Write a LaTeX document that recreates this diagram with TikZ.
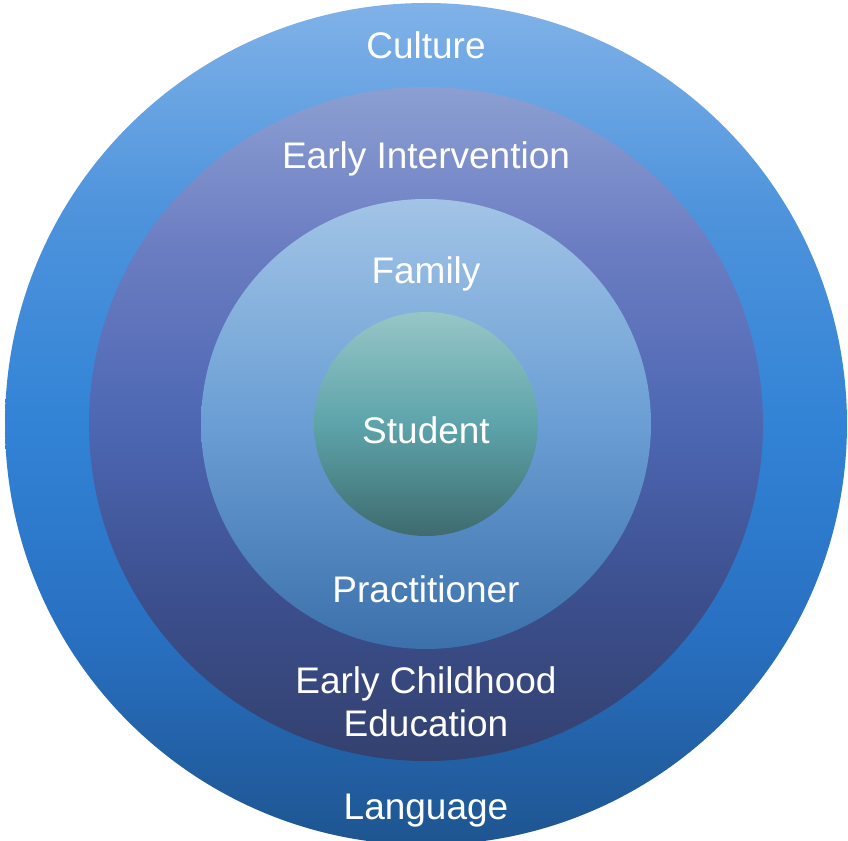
\documentclass[tikz,border=0pt]{standalone}
\usepackage{fontspec}
\setmainfont{Liberation Sans}
\usetikzlibrary{positioning}

% vertical fills, bottom (25bp) to top (75bp)
\pgfdeclareverticalshading{cultFill}{100bp}{
    rgb(0bp)=(0.118,0.333,0.565); rgb(25bp)=(0.118,0.333,0.565);
    rgb(37bp)=(0.157,0.435,0.753); rgb(50bp)=(0.196,0.514,0.839);
    rgb(63bp)=(0.310,0.580,0.863); rgb(75bp)=(0.502,0.698,0.910);
    rgb(100bp)=(0.502,0.698,0.910)}
\pgfdeclareverticalshading{eiFill}{100bp}{
    rgb(0bp)=(0.200,0.255,0.435); rgb(25bp)=(0.200,0.255,0.435);
    rgb(37bp)=(0.235,0.310,0.553); rgb(50bp)=(0.302,0.404,0.702);
    rgb(63bp)=(0.420,0.490,0.760); rgb(75bp)=(0.549,0.624,0.824);
    rgb(100bp)=(0.549,0.624,0.824)}
\pgfdeclareverticalshading{famFill}{100bp}{
    rgb(0bp)=(0.235,0.439,0.667); rgb(25bp)=(0.235,0.439,0.667);
    rgb(50bp)=(0.416,0.620,0.831); rgb(75bp)=(0.635,0.769,0.902);
    rgb(100bp)=(0.635,0.769,0.902)}
\pgfdeclareverticalshading{stuFill}{100bp}{
    rgb(0bp)=(0.243,0.420,0.431); rgb(25bp)=(0.243,0.420,0.431);
    rgb(50bp)=(0.365,0.643,0.667); rgb(75bp)=(0.592,0.776,0.780);
    rgb(100bp)=(0.592,0.776,0.780)}

\tikzset{
    ring/.style={circle,draw=none,inner sep=0pt,minimum size=#1},
    lbl/.style={text=white,font=\fontsize{18.5}{21.5}\selectfont,align=center,inner sep=0pt}
}

\begin{document}
\begin{tikzpicture}[x=0.5pt,y=0.5pt]
    \useasboundingbox (0,0) rectangle (848,841);
    \coordinate (c) at (426,417);

    % the four discs, outer first
    \node[ring=421pt,shading=cultFill] (culture) at (c) {};
    \node[ring=337pt,shading=eiFill] (interv) at (c) {};
    \node[ring=225pt,shading=famFill] (family) at (c) {};
    \node[ring=112pt,shading=stuFill] (student) at (c) {};

    % labels
    \node[lbl] (tCulture) at (426,796) {Culture};
    \node[lbl] (tInterv) at (426,682) {Early Intervention};
    \node[lbl] (tFamily) at (426,567) {Family};
    \node[lbl] (tStudent) at (426,411) {Student};
    \node[lbl] (tPract) at (426,252) {Practitioner};
    \node[lbl] (tEce) at (426,139) {Early Childhood\\Education};
    \node[lbl] (tLang) at (426,30) {Language};
\end{tikzpicture}
\end{document}
